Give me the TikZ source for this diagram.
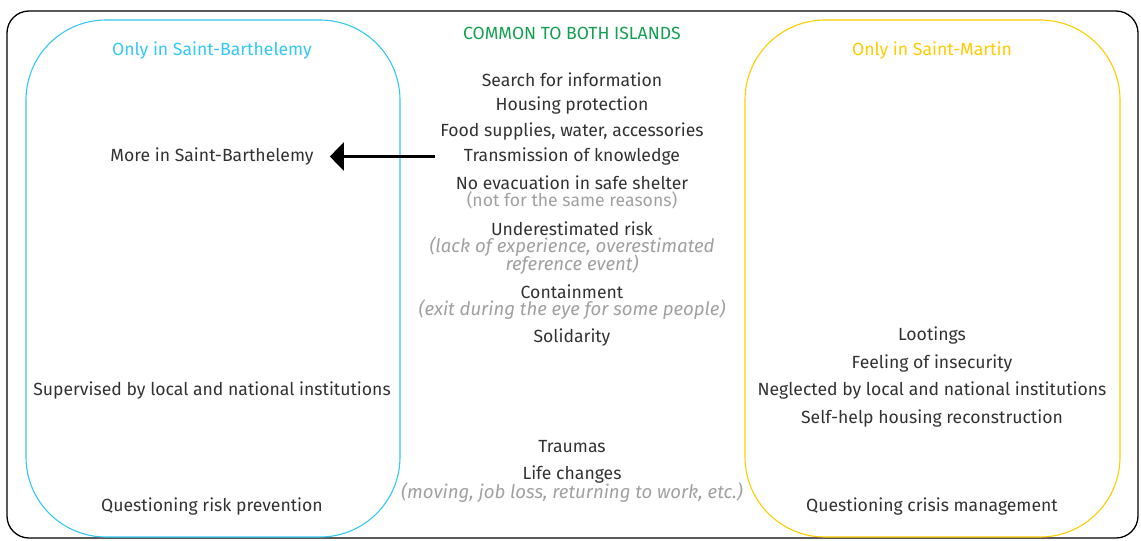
\documentclass[tikz,border=0pt]{standalone}
\usepackage{fontspec}
\setmainfont{Fira Sans}
\usetikzlibrary{arrows.meta}
\definecolor{txt}{RGB}{50,50,50}
\definecolor{note}{RGB}{160,160,160}
\definecolor{cyanc}{RGB}{51,200,245}
\definecolor{yell}{RGB}{255,204,0}
\definecolor{grn}{RGB}{20,160,80}
\begin{document}
\begin{tikzpicture}[x=1pt,y=-1pt,
  lbl/.style={font=\fontsize{17.6}{20}\selectfont, text=txt, inner sep=0pt, anchor=center, yshift=-1.5pt},
  nt/.style={font=\fontsize{18.6}{20}\selectfont\itshape, text=note, inner sep=0pt, anchor=center, yshift=-1.5pt},
  hd/.style={font=\fontsize{17.6}{20}\selectfont, inner sep=0pt, anchor=center, yshift=-1.5pt}]
\useasboundingbox (0,0) rectangle (1141,541);
\draw[line width=1.3pt, rounded corners=22pt] (7,11) rectangle (1138,538);
\draw[cyanc, line width=1.1pt, rounded corners=80pt] (26,20) rectangle (400,537);
\draw[yell, line width=1.1pt, rounded corners=80pt] (745,20) rectangle (1120,537);
% headings
\node[hd, text=cyanc] (hl) at (212,49) {Only in Saint-Barthelemy};
\node[hd, text=grn] (hc) at (572,32) {COMMON TO BOTH ISLANDS};
\node[hd, text=yell] (hr) at (932,49) {Only in Saint-Martin};
% centre
\node[lbl] (c1) at (572,78) {Search for information};
\node[lbl] (c2) at (572,104) {Housing protection};
\node[lbl] (c3) at (572,130) {Food supplies, water, accessories};
\node[lbl] (c4) at (572,155) {Transmission of knowledge};
\node[lbl] (c5) at (572,181) {No evacuation in safe shelter};
\node[lbl, text=note] (c5n) at (572,199) {(not for the same reasons)};
\node[lbl] (c6) at (572,227) {Underestimated risk};
\node[nt] (c6n) at (572,245) {(lack of experience, overestimated};
\node[nt] (c6m) at (572,263) {reference event)};
\node[lbl] (c7) at (572,290) {Containment};
\node[nt] (c7n) at (572,308) {(exit during the eye for some people)};
\node[lbl] (c8) at (572,336) {Solidarity};
\node[lbl] (c9) at (572,445) {Traumas};
\node[lbl] (c10) at (572,473) {Life changes};
\node[nt] (c10n) at (572,491) {(moving, job loss, returning to work, etc.)};
% left
\node[lbl] (l1) at (212,155) {More in Saint-Barthelemy};
\node[lbl] (l2) at (212,389) {Supervised by local and national institutions};
\node[lbl] (l3) at (212,505) {Questioning risk prevention};
% right
\node[lbl] (r1) at (932,334) {Lootings};
\node[lbl] (r2) at (932,362) {Feeling of insecurity};
\node[lbl] (r3) at (932,389) {Neglected by local and national institutions};
\node[lbl] (r4) at (932,417) {Self-help housing reconstruction};
\node[lbl] (r5) at (932,505) {Questioning crisis management};
% arrow
\draw[line width=2.5pt, -{Triangle[length=14pt,width=28pt]}, shorten <=29pt, shorten >=16pt] (c4.west) -- (l1.east);
\end{tikzpicture}
\end{document}
